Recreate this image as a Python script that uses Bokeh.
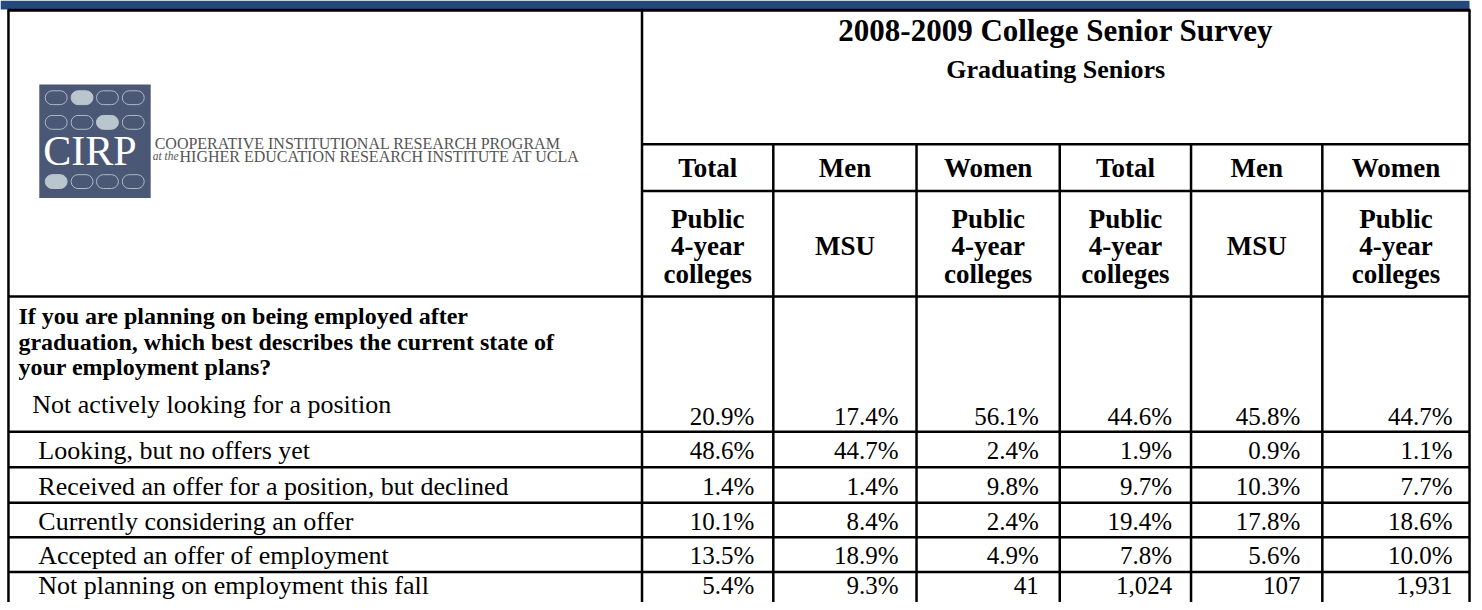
from bokeh.plotting import figure
from bokeh.models import Range1d
from bokeh.core.properties import value
from bokeh.embed import file_html
from bokeh.resources import INLINE

# ---------------- data ----------------
title = "2008-2009 College Senior Survey"
subtitle = "Graduating Seniors"
group_headers = ["Total", "Men", "Women", "Total", "Men", "Women"]
sub_headers = [["Public", "4-year", "colleges"], ["MSU"], ["Public", "4-year", "colleges"],
               ["Public", "4-year", "colleges"], ["MSU"], ["Public", "4-year", "colleges"]]
question_lines = ["If you are planning on being employed after",
                  "graduation, which best describes the current state of",
                  "your employment plans?"]
categories = ["Not actively looking for a position",
              "Looking, but no offers yet",
              "Received an offer for a position, but declined",
              "Currently considering an offer",
              "Accepted an offer of employment",
              "Not planning on employment this fall"]
col_total_public = ["20.9%", "48.6%", "1.4%", "10.1%", "13.5%", "5.4%"]
col_men_msu = ["17.4%", "44.7%", "1.4%", "8.4%", "18.9%", "9.3%"]
col_women_public = ["56.1%", "2.4%", "9.8%", "2.4%", "4.9%", "41"]
col_total_public2 = ["44.6%", "1.9%", "9.7%", "19.4%", "7.8%", "1,024"]
col_men_msu2 = ["45.8%", "0.9%", "10.3%", "17.8%", "5.6%", "107"]
col_women_public2 = ["44.7%", "1.1%", "7.7%", "18.6%", "10.0%", "1,931"]
columns = [col_total_public, col_men_msu, col_women_public,
           col_total_public2, col_men_msu2, col_women_public2]
logo_line1 = "COOPERATIVE INSTITUTIONAL RESEARCH PROGRAM"
logo_line2_small = "at the"
logo_line2 = "HIGHER EDUCATION RESEARCH INSTITUTE AT UCLA"

# ---------------- layout ----------------
W, H = 1482, 610
SERIF = value("Liberation Serif")
col_edges = [645, 777, 921, 1065, 1197, 1329, 1477]
value_pad = [19, 18, 21, 19, 22, 17]
LEFT = 8
TOP = 10
TITLE_BOTTOM = 145.7
HEAD_BOTTOM = 193
SUB_BOTTOM = 300
row_edges = [437, 473, 509, 544, 579, 615]

p = figure(width=1474, height=602, x_range=Range1d(0, W), y_range=Range1d(H, 0),
           output_backend="svg", toolbar_location=None, min_border=0)
p.axis.visible = False
p.grid.visible = False
p.outline_line_color = None
p.background_fill_color = "white"
p.border_fill_color = "white"

# top blue band
p.quad(left=[0], right=[col_edges[-1]], top=[0], bottom=[9], fill_color="#244A7C", line_color=None)

# grid lines
x0, y0, x1, y1 = [], [], [], []
for i, x in enumerate(col_edges):
    ys = TOP if i in (0, len(col_edges) - 1) else TITLE_BOTTOM
    x0.append(x); x1.append(x); y0.append(ys); y1.append(row_edges[-1])
x0.append(LEFT); x1.append(LEFT); y0.append(TOP); y1.append(row_edges[-1])
for y in [TITLE_BOTTOM, HEAD_BOTTOM]:
    x0.append(col_edges[0]); x1.append(col_edges[-1]); y0.append(y); y1.append(y)
for y in [SUB_BOTTOM] + row_edges[:-1]:
    x0.append(LEFT); x1.append(col_edges[-1]); y0.append(y); y1.append(y)
p.segment(x0=x0, y0=y0, x1=x1, y1=y1, line_color="black", line_width=2.5)
p.segment(x0=[LEFT - 1], y0=[TOP], x1=[col_edges[-1] + 1], y1=[TOP], line_color="black", line_width=3)

# title
cx = (col_edges[0] + col_edges[-1]) / 2
p.text(x=[cx], y=[30], text=[title], text_align="center", text_baseline="middle",
       text_font=SERIF, text_font_style="bold", text_font_size="31px", text_color="black")
p.text(x=[cx], y=[70], text=[subtitle], text_align="center", text_baseline="middle",
       text_font=SERIF, text_font_style="bold", text_font_size="26px", text_color="black")

# group headers
centers = [(col_edges[i] + col_edges[i + 1]) / 2 for i in range(6)]
p.text(x=centers, y=[170] * 6, text=group_headers, text_align="center", text_baseline="middle",
       text_font=SERIF, text_font_style="bold", text_font_size="27px", text_color="black")

# sub headers
sx, sy, st = [], [], []
for c, lines in zip(centers, sub_headers):
    if len(lines) == 1:
        sx.append(c); sy.append(249); st.append(lines[0])
    else:
        for k, ln in enumerate(lines):
            sx.append(c); sy.append(221 + 28 * k); st.append(ln)
p.text(x=sx, y=sy, text=st, text_align="center", text_baseline="middle",
       text_font=SERIF, text_font_style="bold", text_font_size="27px", text_color="black")

# question
p.text(x=[18] * 3, y=[320, 346, 371], text=question_lines, text_align="left", text_baseline="middle",
       text_font=SERIF, text_font_style="bold", text_font_size="24px", text_color="black")

# category labels and values
label_y = [409] + [(row_edges[i] + row_edges[i + 1]) / 2 + 1 for i in range(4)] + [593]
label_x = [32] + [38] * 5
value_y = [422] + label_y[1:]
p.text(x=label_x, y=label_y, text=categories, text_align="left", text_baseline="middle",
       text_font=SERIF, text_font_size="26px", text_color="black")
vx, vy, vt = [], [], []
for j, col in enumerate(columns):
    for i, v in enumerate(col):
        vx.append(col_edges[j + 1] - value_pad[j]); vy.append(value_y[i]); vt.append(v)
p.text(x=vx, y=vy, text=vt, text_align="right", text_baseline="middle",
       text_font=SERIF, text_font_size="25px", text_color="black")

# logo
p.quad(left=[39], right=[151], top=[85], bottom=[200], fill_color="#4B5875", line_color=None)
pill_cols = [56, 82, 107.5, 133.5]
pill_rows = [98.5, 123.5, 183.5]
filled = [1, 2, 0]
px_f, py_f, px_o, py_o = [], [], [], []
for r, yy in enumerate(pill_rows):
    for c, xx in enumerate(pill_cols):
        if c == filled[r]:
            px_f.append(xx); py_f.append(yy)
        else:
            px_o.append(xx); py_o.append(yy)
p.rect(x=px_f, y=py_f, width=22, height=14, fill_color="#BAC6CE", line_color="#BAC6CE",
       border_radius=7)
p.rect(x=px_o, y=py_o, width=22, height=14, fill_color=None, line_color="#AEB8C6",
       line_width=1, border_radius=7)
p.text(x=[90], y=[153], text=["CIRP"], text_align="center", text_baseline="middle",
       text_font=SERIF, text_font_size="42px", text_color="white")
p.text(x=[155], y=[144.5], text=[logo_line1], text_align="left", text_baseline="middle",
       text_font=SERIF, text_font_size="16px", text_color="#555555")
p.text(x=[153], y=[158], text=[logo_line2_small], text_align="left", text_baseline="middle",
       text_font=SERIF, text_font_style="italic", text_font_size="11.5px", text_color="#555555")
p.text(x=[180], y=[158], text=[logo_line2], text_align="left", text_baseline="middle",
       text_font=SERIF, text_font_size="16px", text_color="#555555")

open("out.html", "w").write(file_html(p, INLINE))
